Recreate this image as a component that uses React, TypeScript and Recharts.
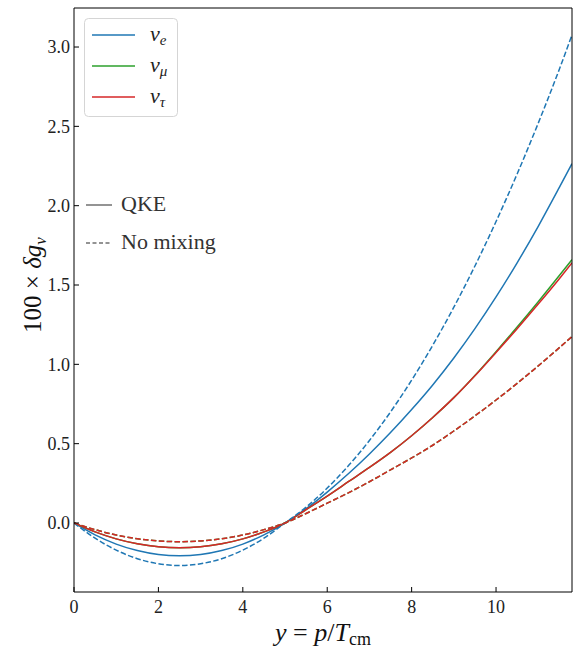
import React from 'react';
import { LineChart, Line, XAxis, YAxis } from 'recharts';

// momentum grid y = p/T_cm
const xs = [0, 0.5, 1, 1.5, 2, 2.5, 3, 3.5, 4, 4.5, 5, 5.5, 6, 6.5, 7, 7.5, 8, 8.5, 9, 9.5, 10, 10.5, 11, 11.5, 11.8];

// 100 x delta g_nu, QKE
const nuEQke = [0, -0.075, -0.133, -0.174, -0.199, -0.207, -0.199, -0.174, -0.133, -0.075, -0.001, 0.09, 0.195, 0.31, 0.435, 0.57, 0.715, 0.87, 1.04, 1.225, 1.425, 1.64, 1.87, 2.115, 2.265];
const nuMuQke = [0, -0.056, -0.1, -0.131, -0.15, -0.156, -0.15, -0.131, -0.1, -0.056, 0, 0.085, 0.17, 0.26, 0.35, 0.445, 0.55, 0.665, 0.79, 0.93, 1.08, 1.235, 1.395, 1.56, 1.66];
const nuTauQke = [0, -0.056, -0.1, -0.131, -0.15, -0.156, -0.15, -0.131, -0.1, -0.056, 0, 0.085, 0.17, 0.26, 0.35, 0.445, 0.55, 0.665, 0.79, 0.928, 1.075, 1.225, 1.38, 1.54, 1.64];

// 100 x delta g_nu, no mixing
const nuENoMix = [0, -0.096, -0.171, -0.225, -0.257, -0.268, -0.257, -0.225, -0.171, -0.096, 0, 0.1, 0.22, 0.36, 0.52, 0.7, 0.9, 1.12, 1.36, 1.62, 1.9, 2.2, 2.52, 2.86, 3.076];
const nuMuNoMix = [0, -0.042, -0.076, -0.099, -0.113, -0.118, -0.113, -0.099, -0.076, -0.042, 0, 0.06, 0.125, 0.19, 0.26, 0.335, 0.41, 0.49, 0.58, 0.675, 0.775, 0.88, 0.99, 1.105, 1.175];
const nuTauNoMix = [0, -0.042, -0.076, -0.099, -0.113, -0.118, -0.113, -0.099, -0.076, -0.042, 0, 0.06, 0.125, 0.19, 0.26, 0.335, 0.41, 0.49, 0.58, 0.675, 0.775, 0.88, 0.99, 1.105, 1.175];

const xTicks = [0, 2, 4, 6, 8, 10];
const yTicks = [0, 0.5, 1, 1.5, 2, 2.5, 3];

const flavours = [
  { id: 'e', sub: 'e', color: '#1f77b4' },
  { id: 'mu', sub: 'μ', color: '#2ca02c' },
  { id: 'tau', sub: 'τ', color: '#d62728' },
];

const styles = [
  { label: 'QKE', dash: undefined as string | undefined },
  { label: 'No mixing', dash: '4 2.5' },
];

const data = xs.map((x, i) => ({
  x,
  eQ: nuEQke[i],
  muQ: nuMuQke[i],
  tauQ: nuTauQke[i],
  eN: nuENoMix[i],
  muN: nuMuNoMix[i],
  tauN: nuTauNoMix[i],
}));

const FONT = "'Liberation Serif', 'Noto Serif', 'DejaVu Serif', 'Times New Roman', serif";
const serif = { fontFamily: FONT };
const tickStyle = { fontSize: 18, fill: '#222', style: serif };

function XLabel(props: any) {
  const vb = props.viewBox;
  return (
    <text x={vb.x + vb.width / 2} y={vb.y + 49} textAnchor="middle" style={serif} fontSize={26} fill="#111">
      <tspan fontStyle="italic">y</tspan>
      <tspan>{' = '}</tspan>
      <tspan fontStyle="italic">p</tspan>
      <tspan>/</tspan>
      <tspan fontStyle="italic">T</tspan>
      <tspan fontSize={18} dy={4}>cm</tspan>
    </text>
  );
}

function YLabel(props: any) {
  const vb = props.viewBox;
  const x = 41;
  const y = vb.y + vb.height / 2 - 15;
  return (
    <text x={x} y={y} transform={`rotate(-90, ${x}, ${y})`} textAnchor="middle" style={serif} fontSize={25} fill="#111">
      <tspan>100 × </tspan>
      <tspan fontStyle="italic">δg</tspan>
      <tspan fontSize={17} dy={5} fontStyle="italic">ν</tspan>
    </text>
  );
}

export default function App() {
  return (
    <div style={{ position: 'absolute', left: 0, top: 0, width: 579, height: 650, background: '#fff', ...serif }}>
      <LineChart width={579} height={650} data={data} margin={{ top: 0, right: 0, bottom: 0, left: 0 }} style={serif}>
        <XAxis xAxisId="b" dataKey="x" type="number" domain={[0, 11.8]} ticks={xTicks} allowDataOverflow
          height={58} tickSize={-5} tickMargin={13} axisLine={{ stroke: '#000' }} tickLine={{ stroke: '#000' }}
          tick={tickStyle} label={(p: any) => <XLabel {...p} />} />
        <XAxis xAxisId="t" orientation="top" dataKey="x" type="number" domain={[0, 11.8]} ticks={xTicks} allowDataOverflow
          height={8} tickSize={-5} tick={false} axisLine={{ stroke: '#000' }} tickLine={{ stroke: '#000' }} />
        <YAxis yAxisId="l" type="number" domain={[-0.435, 3.246]} ticks={yTicks} allowDataOverflow
          width={74} tickSize={-5} tickMargin={9} tickFormatter={(v: number) => v.toFixed(1)}
          axisLine={{ stroke: '#000' }} tickLine={{ stroke: '#000' }} tick={tickStyle}
          label={(p: any) => <YLabel {...p} />} />
        <YAxis yAxisId="r" orientation="right" type="number" domain={[-0.435, 3.246]} ticks={yTicks} allowDataOverflow
          width={7} tickSize={-5} tick={false} axisLine={{ stroke: '#000' }} tickLine={{ stroke: '#000' }} />
        {flavours.map(f => (
          <Line key={f.id + 'Q'} xAxisId="b" yAxisId="l" type="monotone" dataKey={f.id + 'Q'} stroke={f.color}
            strokeWidth={1.5} dot={false} isAnimationActive={false} />
        ))}
        {flavours.map(f => (
          <Line key={f.id + 'N'} xAxisId="b" yAxisId="l" type="monotone" dataKey={f.id + 'N'} stroke={f.color}
            strokeWidth={1.5} strokeDasharray="5.5 2.4" dot={false} isAnimationActive={false} />
        ))}
      </LineChart>

      {/* legends */}
      <svg width={579} height={650} style={{ position: 'absolute', left: 0, top: 0, pointerEvents: 'none' }}>
        <rect x={84.5} y={18.5} width={93} height={98} rx={4} fill="#fff" fillOpacity={0.8} stroke="#d5d5d5" />
        {flavours.map((f, i) => (
          <g key={f.id}>
            <line x1={92} x2={135} y1={35 + i * 31} y2={35 + i * 31} stroke={f.color} strokeWidth={1.5} />
            <text x={150} y={41 + i * 31} style={serif} fontSize={22} fill="#222">
              <tspan fontStyle="italic">ν</tspan>
              <tspan fontSize={15} dy={4} fontStyle="italic">{f.sub}</tspan>
            </text>
          </g>
        ))}
        {styles.map((s, i) => (
          <g key={s.label}>
            <line x1={86} x2={112} y1={205 + i * 38} y2={205 + i * 38} stroke="#707070" strokeWidth={1.5}
              strokeDasharray={s.dash} />
            <text x={121} y={211 + i * 38} style={serif} fontSize={22} fill="#333">{s.label}</text>
          </g>
        ))}
      </svg>
    </div>
  );
}
